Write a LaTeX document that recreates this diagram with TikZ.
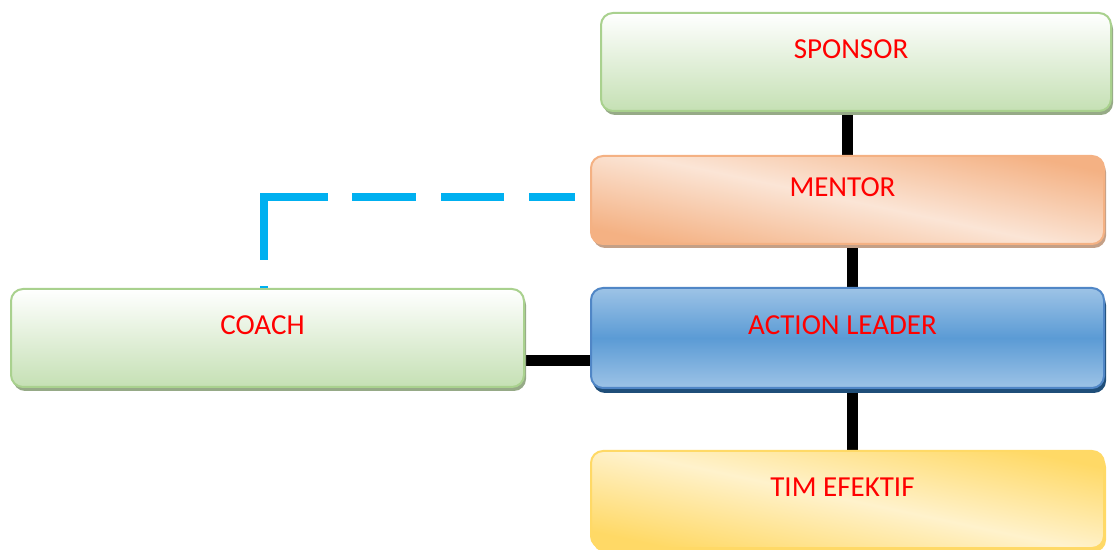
\documentclass[tikz,border=0pt]{standalone}
\usepackage{fontspec}
\setmainfont{Carlito}
\usetikzlibrary{shadows,backgrounds}
\definecolor{greenD}{RGB}{197,224,180}
\definecolor{greenB}{RGB}{169,209,142}
\definecolor{greenS}{RGB}{150,170,135}
\definecolor{orD}{RGB}{244,177,131}
\definecolor{orL}{RGB}{251,229,214}
\definecolor{orS}{RGB}{196,160,135}
\definecolor{blL}{RGB}{157,195,230}
\definecolor{blM}{RGB}{91,155,213}
\definecolor{blB}{RGB}{80,134,198}
\definecolor{blS}{RGB}{31,78,121}
\definecolor{yeD}{RGB}{255,217,102}
\definecolor{yeL}{RGB}{255,242,204}
\definecolor{coachC}{RGB}{0,176,240}
\tikzset{
	box/.style={draw, line width=1pt, rounded corners=6pt, minimum width=256.5pt, inner sep=0pt,
		font=\fontsize{14.5}{17}\selectfont, text=red, text height=9.4pt, text depth=12.5pt,
		execute at end node={\hspace{5pt}}},
	greenbox/.style={box, draw=greenB, top color=white, bottom color=greenD,
		drop shadow={shadow xshift=1pt, shadow yshift=-2pt, fill=greenS, opacity=1}},
	orangebox/.style={box, draw=orD, top color=orD, bottom color=orD, middle color=orL, shading angle=-12,
		drop shadow={shadow xshift=1pt, shadow yshift=-2pt, fill=orS, opacity=1}},
	bluebox/.style={box, draw=blB, top color=blL, bottom color=blL, middle color=blM,
		drop shadow={shadow xshift=1pt, shadow yshift=-2.5pt, fill=blS, opacity=1}},
	yellowbox/.style={box, draw=yeD, top color=yeD, bottom color=yeD, middle color=yeL, shading angle=-12,
		drop shadow={shadow xshift=1pt, shadow yshift=-2pt, fill=yeD, opacity=1}},
	link/.style={line width=5.5pt, black},
	coachline/.style={line width=3.75pt, coachC,
		dash pattern=on 1pt off 13pt on 63.5pt off 12pt on 32pt off 12.5pt on 31.5pt off 12.5pt on 23pt off 100pt}
}
\begin{document}
\begin{tikzpicture}[x=0.5pt, y=-0.5pt]
	\useasboundingbox (0,0) rectangle (1114,550);
	\node[greenbox, minimum width=255pt, minimum height=49pt] (sponsor) at (856,62) {SPONSOR};
	\node[orangebox, minimum height=44pt] (mentor) at (847.5,200) {MENTOR};
	\node[bluebox, minimum height=50pt] (action) at (847.5,338) {ACTION LEADER};
	\node[yellowbox, minimum height=48.5pt] (tim) at (847.5,499.5) {TIM EFEKTIF};
	\node[greenbox, minimum height=49pt] (coach) at (267.5,338) {COACH};
	\begin{scope}[on background layer]
		\draw[link] (mentor.north) -- (mentor.north |- sponsor.south);
		\draw[link] ([xshift=2.5pt]mentor.south) -- ([xshift=2.5pt]action.north);
		\draw[link] ([xshift=2.5pt]action.south) -- ([xshift=2.5pt]tim.north);
		\draw[link] ([yshift=-11.5pt]coach.east) -- ([yshift=-11.5pt]action.west);
	\end{scope}
	\draw[coachline] ([xshift=-1.75pt]coach.north) |- ([yshift=1.5pt]mentor.west);
\end{tikzpicture}
\end{document}
